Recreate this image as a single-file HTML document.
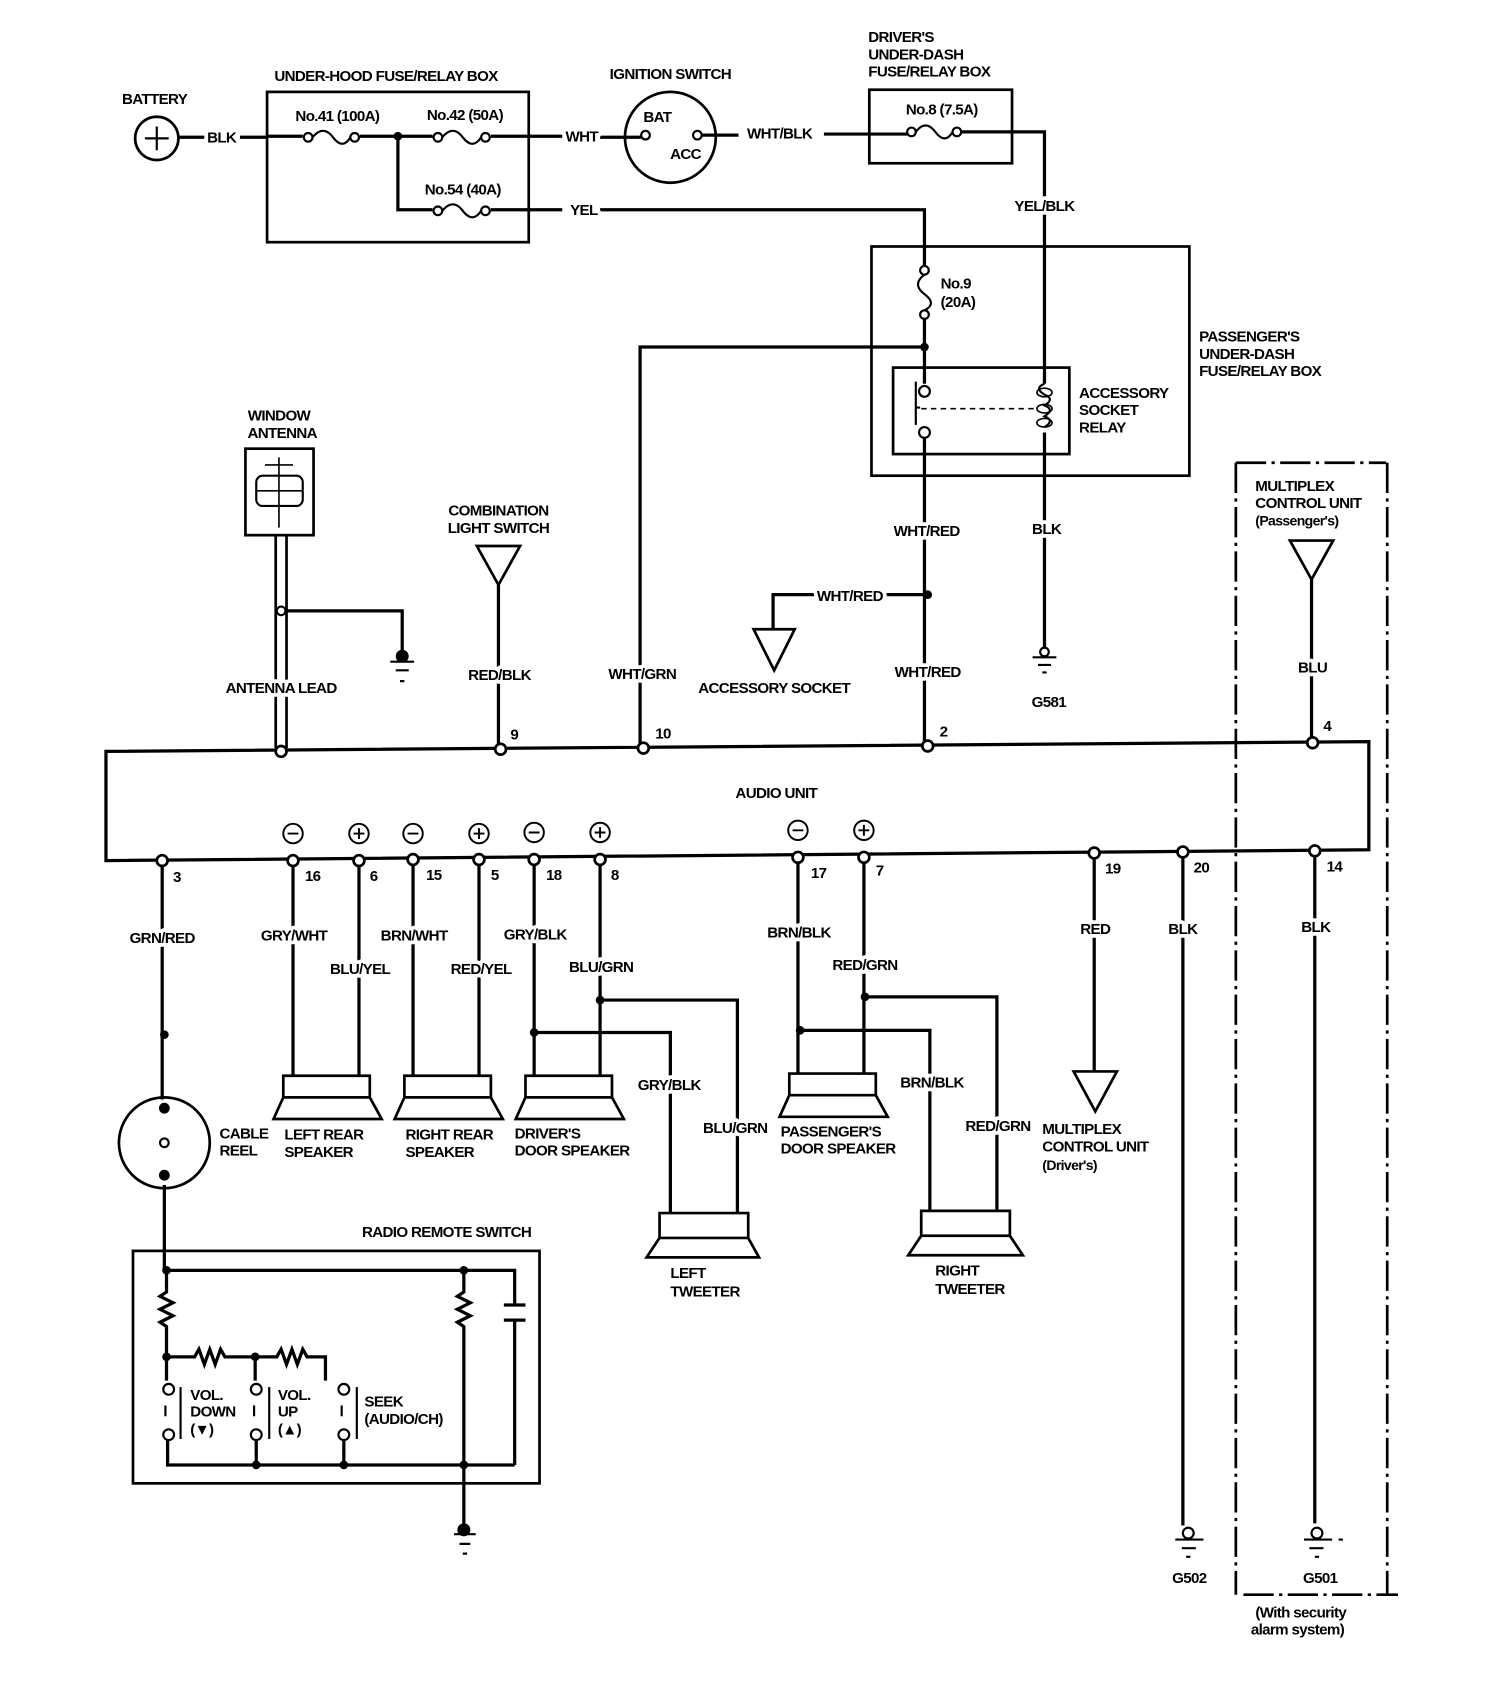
<!DOCTYPE html>
<html><head><meta charset="utf-8"><style>
html,body{margin:0;padding:0;background:#fff;}
svg{display:block;}
text{font-family:"Liberation Sans",sans-serif;font-weight:bold;font-size:14px;fill:#000;letter-spacing:-0.6px;}
.m{text-anchor:middle;}
.w{stroke:#fff;stroke-width:7px;paint-order:stroke;stroke-linejoin:round;}
</style></head><body>
<svg width="1504" height="1692" viewBox="0 0 1391 1565" preserveAspectRatio="none" xmlns="http://www.w3.org/2000/svg">
<g fill="none" stroke="#000" stroke-width="3">
<circle cx="145" cy="128" r="20" stroke-width="2.5"/>
<path d="M134 128h22M145 117v22" stroke-width="2"/>
<path d="M165 127h25M222 127h25"/>
<rect x="247" y="85" width="242" height="139" stroke-width="2.5"/>
<path d="M247 126h33M333 126h67M454 126h66M368 126v68h32M454 194h66"/>
<circle cx="285" cy="127" r="4" stroke-width="2"/><circle cx="328" cy="127" r="4" stroke-width="2"/>
<path d="M289 127q10-12 19 0t16 0" stroke-width="2"/>
<circle cx="405" cy="127" r="4" stroke-width="2"/><circle cx="449" cy="127" r="4" stroke-width="2"/>
<path d="M409 127q10-12 19 0t17 0" stroke-width="2"/>
<circle cx="405" cy="195" r="4" stroke-width="2"/><circle cx="449" cy="195" r="4" stroke-width="2"/>
<path d="M409 195q10-12 19 0t17 0" stroke-width="2"/>
<path d="M555 127h38"/>
<circle cx="620" cy="127" r="42" stroke-width="2.5"/>
<circle cx="597" cy="125" r="4" stroke-width="2"/><circle cx="645" cy="125" r="4" stroke-width="2"/>
<path d="M649 125h34M762 124h78"/>
<rect x="804" y="83" width="132" height="68" stroke-width="2.5"/>
<circle cx="843" cy="122" r="4" stroke-width="2"/><circle cx="885" cy="122" r="4" stroke-width="2"/>
<path d="M847 122q9-12 18 0t16 0" stroke-width="2"/>
<path d="M889 122h77v233M966 400v200"/>
<path d="M555 194h300v52M855 294v61M855 321H592v371"/>
<circle cx="855" cy="250" r="4" stroke-width="2"/><circle cx="855" cy="291" r="4" stroke-width="2"/>
<path d="M855 254q-12 9 0 18t0 15" stroke-width="2"/>
<rect x="806" y="228" width="294" height="212" stroke-width="2.5"/>
<rect x="826" y="340" width="163" height="80" stroke-width="2.5"/>
<circle cx="855" cy="362" r="5" stroke-width="2"/><circle cx="855" cy="400" r="5" stroke-width="2"/>
<path d="M847 353v40M851 377h-4" stroke-width="2"/>
<path d="M852 378h105" stroke-dasharray="5 4" stroke-width="1.5"/>
<path d="M966 355q-10 4 0 10q10 4 0 10q10 4 0 10q10 4 0 10" stroke-width="2"/>
<ellipse cx="966" cy="363" rx="7" ry="4" stroke-width="1.5"/><ellipse cx="966" cy="378" rx="7" ry="4" stroke-width="1.5"/><ellipse cx="966" cy="391" rx="7" ry="4" stroke-width="1.5"/>
<path d="M855 405v285M858 550H715v32"/>
<path d="M697 582h38l-19 38z" stroke-width="2.5"/>
<circle cx="966" cy="603" r="4" stroke-width="2"/>
<path d="M955 608h22M960 615h12M964 622h4" stroke-width="2"/>
<rect x="227" y="415" width="63" height="80" stroke-width="2.5"/>
<rect x="237" y="440" width="43" height="28" rx="6" stroke-width="2"/>
<path d="M258 423v65M237 454h43M245 430h26" stroke-width="1.5"/>
<path d="M255 495v197M265 495v197" stroke-width="2.5"/>
<circle cx="260" cy="565" r="4" stroke-width="2"/>
<path d="M264 565h108v40"/>
<path d="M361 612h22M366 620h12M370 630h4" stroke-width="2"/>
<path d="M441 505h40l-20 36z" stroke-width="2.5"/>
<path d="M461 541v149"/>
<polygon points="98,695 1266,686 1266,786 98,796" stroke-width="3"/>
<path d="M1193 500h40l-20 36z" stroke-width="2.5"/>
<path d="M1213 536v148"/>
<path d="M1143 428h139M1283 428v1047M1143 428v1047M1150 1475h143" stroke-dasharray="28 5 3 5" stroke-width="2.5"/>
<path d="M150 799v218M152 1096v79"/>
<path d="M271 799v196M332 799v196M382 799v196M443 799v196M494 799v196M555 799v196M738 797v196M799 797v196"/>
<path d="M494 955h126v167M555 925h127v197M740 953h120v167M800 922h122v198"/>
<path d="M1012 791v200M1094 791v620M1216 789v620"/>
<path d="M993 991h40l-20 37z" stroke-width="2.5"/>
<circle cx="152" cy="1057" r="42" stroke-width="2.5"/>
<circle cx="152" cy="1057" r="4" stroke-width="2"/>
<g stroke-width="2.5">
<path d="M262 995h80v20h-80zM262 1015l-9 20h100l-11-20"/>
<path d="M374 995h80v20h-80zM374 1015l-9 20h100l-11-20"/>
<path d="M486 995h80v20h-80zM486 1015l-9 20h100l-11-20"/>
<path d="M730 993h80v20h-80zM730 1013l-9 20h100l-11-20"/>
<path d="M610 1122h82v23h-82zM610 1145l-12 18h104l-10-18"/>
<path d="M852 1120h82v23h-82zM852 1143l-12 18h106l-12-18"/>
</g>
<circle cx="1099" cy="1418" r="5" stroke-width="2"/>
<path d="M1087 1424h26M1093 1432h13M1097 1440h4" stroke-width="2"/>
<circle cx="1218" cy="1418" r="5" stroke-width="2"/>
<path d="M1206 1424h26M1211 1432h13M1216 1440h4M1238 1424h4" stroke-width="2"/>
<rect x="123" y="1157" width="376" height="215" stroke-width="2.5"/>
<path d="M154 1175h322v32M476 1222v133"/>
<path d="M466 1207h20M466 1221h20" stroke-width="3"/>
<path d="M154 1175v20l-6 4 12 6-12 6 12 6-12 6 6 4v28"/>
<path d="M154 1255h26l4-7 5 14 5-14 5 14 5-14 4 7h29M236 1255h20l4-7 5 14 5-14 5 14 5-14 4 7h17v22"/>
<path d="M154 1255v22M236 1255v22"/>
<path d="M429 1175v20l-6 4 12 6-12 6 12 6-12 6 6 4v183"/>
<circle cx="156" cy="1285" r="5" stroke-width="2"/><circle cx="156" cy="1327" r="5" stroke-width="2"/>
<circle cx="237" cy="1285" r="5" stroke-width="2"/><circle cx="237" cy="1327" r="5" stroke-width="2"/>
<circle cx="318" cy="1285" r="5" stroke-width="2"/><circle cx="318" cy="1327" r="5" stroke-width="2"/>
<path d="M155 1332v23h321M237 1332v23M318 1332v23"/>
<path d="M153 1300v10M235 1300v10M316 1300v10M167 1283v48M249 1283v48M330 1283v48" stroke-width="2"/>
<path d="M420 1419h20M425 1428h10M428 1437h4" stroke-width="2"/>
</g>
<g fill="#000">
<circle cx="368" cy="126" r="4"/><circle cx="855" cy="321" r="4"/><circle cx="858" cy="550" r="4"/>
<circle cx="372" cy="607" r="6"/><circle cx="152" cy="957" r="4"/>
<circle cx="494" cy="955" r="4"/><circle cx="555" cy="925" r="4"/><circle cx="740" cy="953" r="4"/><circle cx="800" cy="922" r="4"/>
<circle cx="152" cy="1025" r="5"/><circle cx="152" cy="1087" r="5"/>
<circle cx="154" cy="1175" r="4"/><circle cx="429" cy="1175" r="4"/><circle cx="154" cy="1255" r="4"/><circle cx="236" cy="1255" r="4"/>
<circle cx="237" cy="1355" r="4"/><circle cx="318" cy="1355" r="4"/><circle cx="429" cy="1355" r="4"/><circle cx="429" cy="1415" r="6"/>
</g>
<g fill="#fff" stroke="#000" stroke-width="2.5">
<circle cx="260" cy="695" r="5"/><circle cx="463" cy="693" r="5"/><circle cx="595" cy="692" r="5"/><circle cx="858" cy="690" r="5"/><circle cx="1214" cy="687" r="5"/>
<circle cx="150" cy="796" r="5"/><circle cx="271" cy="796" r="5"/><circle cx="332" cy="796" r="5"/><circle cx="382" cy="795" r="5"/><circle cx="443" cy="795" r="5"/><circle cx="494" cy="795" r="5"/><circle cx="555" cy="795" r="5"/><circle cx="738" cy="793" r="5"/><circle cx="799" cy="793" r="5"/><circle cx="1012" cy="789" r="5"/><circle cx="1094" cy="788" r="5"/><circle cx="1216" cy="787" r="5"/>
</g>
<g fill="none" stroke="#000" stroke-width="1.8">
<circle cx="271" cy="771" r="9"/><circle cx="332" cy="771" r="9"/><circle cx="382" cy="771" r="9"/><circle cx="443" cy="771" r="9"/><circle cx="494" cy="770" r="9"/><circle cx="555" cy="770" r="9"/><circle cx="738" cy="768" r="9"/><circle cx="799" cy="768" r="9"/>
<path d="M266 771h10M327 771h10M332 766v10M377 771h10M438 771h10M443 766v10M489 770h10M550 770h10M555 765v10M733 768h10M794 768h10M799 763v10"/>
</g>
<text class="m" x="143" y="96">BATTERY</text>
<text class="m w" x="205" y="132">BLK</text>
<text class="m" x="357" y="75">UNDER-HOOD FUSE/RELAY BOX</text>
<text class="m" x="312" y="112">No.41 (100A)</text>
<text class="m" x="430" y="111">No.42 (50A)</text>
<text class="m" x="428" y="180">No.54 (40A)</text>
<text class="m w" x="538" y="131">WHT</text>
<text class="m w" x="540" y="199">YEL</text>
<text class="m" x="620" y="73">IGNITION SWITCH</text>
<text class="m" x="608" y="113">BAT</text>
<text class="m" x="634" y="147">ACC</text>
<text class="m w" x="721" y="128">WHT/BLK</text>
<text x="803" y="39">DRIVER'S</text>
<text x="803" y="55">UNDER-DASH</text>
<text x="803" y="71">FUSE/RELAY BOX</text>
<text class="m" x="871" y="106">No.8 (7.5A)</text>
<text class="m w" x="966" y="195">YEL/BLK</text>
<text x="870" y="267">No.9</text>
<text x="870" y="284">(20A)</text>
<text x="1109" y="316">PASSENGER'S</text>
<text x="1109" y="332">UNDER-DASH</text>
<text x="1109" y="348">FUSE/RELAY BOX</text>
<text x="998" y="368">ACCESSORY</text>
<text x="998" y="384">SOCKET</text>
<text x="998" y="400">RELAY</text>
<text class="m w" x="857" y="496">WHT/RED</text>
<text class="m w" x="968" y="494">BLK</text>
<text class="m w" x="786" y="556">WHT/RED</text>
<text class="m" x="716" y="641">ACCESSORY SOCKET</text>
<text class="m w" x="858" y="626">WHT/RED</text>
<text class="m" x="970" y="654">G581</text>
<text class="m" x="258" y="389">WINDOW</text>
<text class="m" x="261" y="405">ANTENNA</text>
<text class="m w" x="260" y="641">ANTENNA LEAD</text>
<text class="m" x="461" y="477">COMBINATION</text>
<text class="m" x="461" y="493">LIGHT SWITCH</text>
<text class="m w" x="462" y="629">RED/BLK</text>
<text class="m w" x="594" y="628">WHT/GRN</text>
<text x="1161" y="454">MULTIPLEX</text>
<text x="1161" y="470">CONTROL UNIT</text>
<text x="1161" y="486" style="font-size:13px">(Passenger's)</text>
<text class="m w" x="1214" y="622">BLU</text>
<text x="472" y="684">9</text><text x="606" y="683">10</text><text x="869" y="681">2</text><text x="1224" y="676">4</text>
<text class="m" x="718" y="738">AUDIO UNIT</text>
<text x="160" y="816">3</text><text x="282" y="815">16</text><text x="342" y="815">6</text><text x="394" y="814">15</text><text x="454" y="814">5</text><text x="505" y="814">18</text><text x="565" y="814">8</text><text x="750" y="812">17</text><text x="810" y="810">7</text><text x="1022" y="808">19</text><text x="1104" y="807">20</text><text x="1227" y="806">14</text>
<text class="m w" x="150" y="872">GRN/RED</text>
<text class="m w" x="272" y="870">GRY/WHT</text>
<text class="m w" x="333" y="901">BLU/YEL</text>
<text class="m w" x="383" y="870">BRN/WHT</text>
<text class="m w" x="445" y="901">RED/YEL</text>
<text class="m w" x="495" y="869">GRY/BLK</text>
<text class="m w" x="556" y="899">BLU/GRN</text>
<text class="m w" x="739" y="867">BRN/BLK</text>
<text class="m w" x="800" y="897">RED/GRN</text>
<text class="m w" x="1013" y="864">RED</text>
<text class="m w" x="1094" y="864">BLK</text>
<text class="m w" x="1217" y="862">BLK</text>
<text class="m w" x="619" y="1008">GRY/BLK</text>
<text class="m w" x="680" y="1048">BLU/GRN</text>
<text class="m w" x="862" y="1006">BRN/BLK</text>
<text class="m w" x="923" y="1046">RED/GRN</text>
<text x="203" y="1053">CABLE</text><text x="203" y="1069">REEL</text>
<text x="263" y="1054">LEFT REAR</text><text x="263" y="1070">SPEAKER</text>
<text x="375" y="1054">RIGHT REAR</text><text x="375" y="1070">SPEAKER</text>
<text x="476" y="1053">DRIVER'S</text><text x="476" y="1069">DOOR SPEAKER</text>
<text x="722" y="1051">PASSENGER'S</text><text x="722" y="1067">DOOR SPEAKER</text>
<text x="964" y="1049">MULTIPLEX</text><text x="964" y="1065">CONTROL UNIT</text><text x="964" y="1082" style="font-size:13px">(Driver's)</text>
<text x="620" y="1182">LEFT</text><text x="620" y="1199">TWEETER</text>
<text x="865" y="1180">RIGHT</text><text x="865" y="1197">TWEETER</text>
<text class="m" x="413" y="1144">RADIO REMOTE SWITCH</text>
<text x="176" y="1295">VOL.</text><text x="176" y="1310">DOWN</text><text x="176" y="1327">(▼)</text>
<text x="257" y="1295">VOL.</text><text x="257" y="1310">UP</text><text x="257" y="1327">(▲)</text>
<text x="337" y="1301">SEEK</text><text x="337" y="1317">(AUDIO/CH)</text>
<text class="m" x="1100" y="1464">G502</text>
<text class="m" x="1221" y="1464">G501</text>
<text class="m" x="1203" y="1496">(With security</text>
<text class="m" x="1200" y="1512">alarm system)</text>
</svg>
</body></html>
